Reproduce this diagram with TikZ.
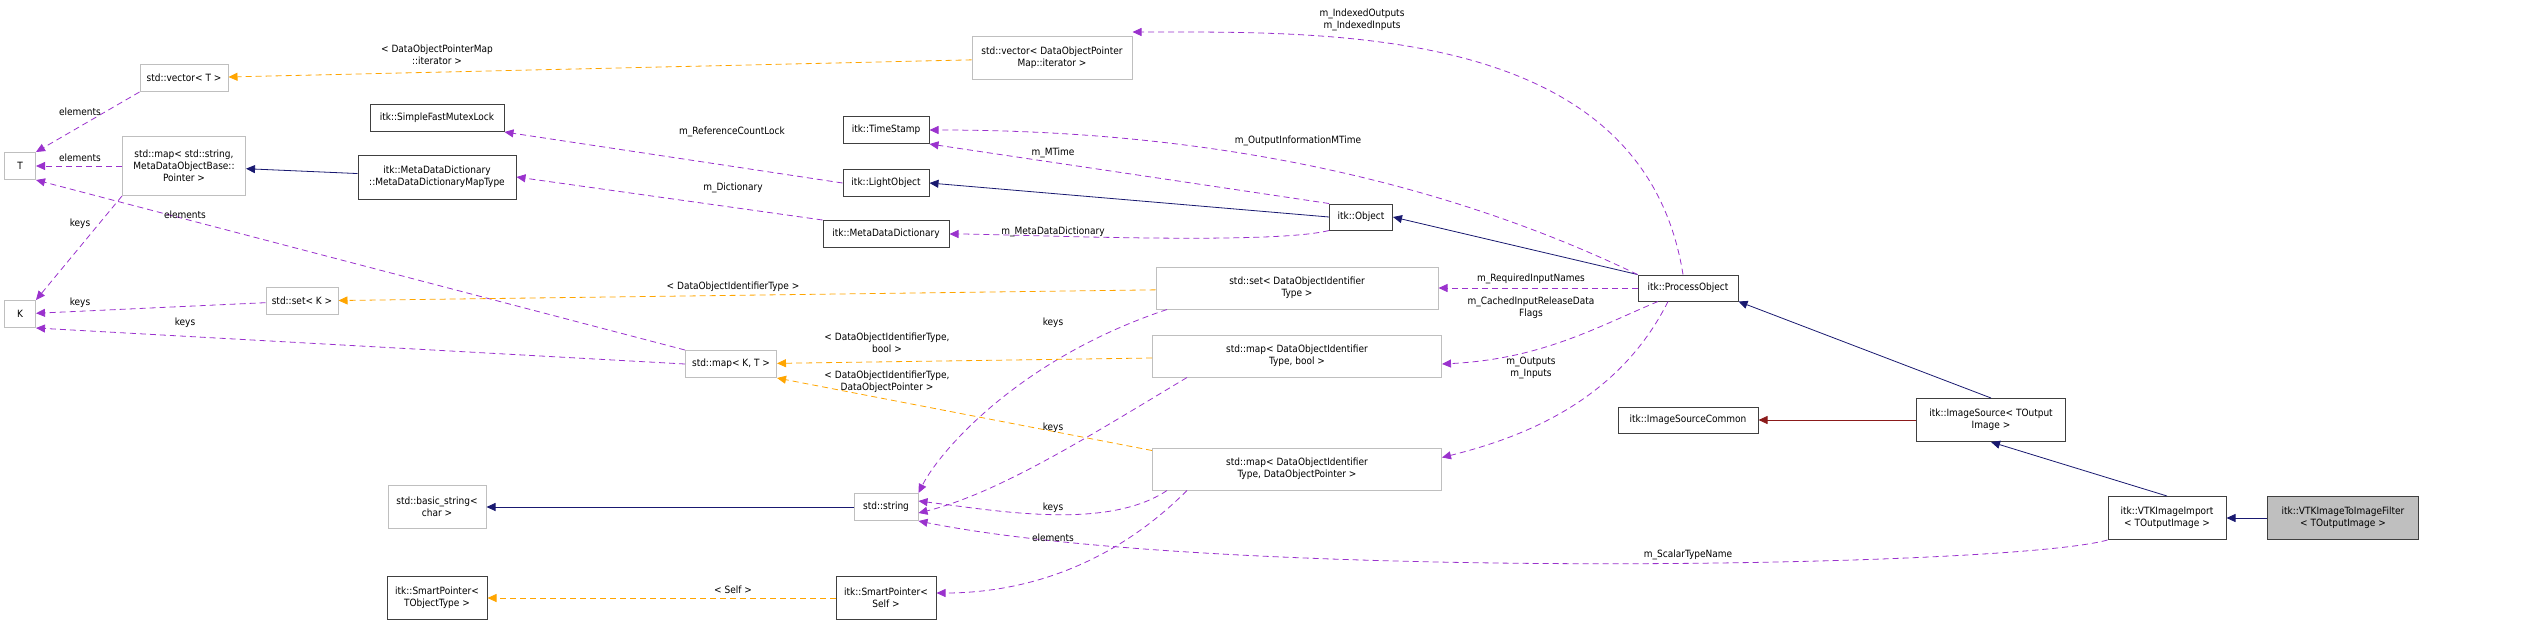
\documentclass[tikz,border=0pt]{standalone}
\usepackage{fontspec}
\setmainfont{DejaVu Sans Condensed}
\usetikzlibrary{arrows.meta, positioning}
\definecolor{usecol}{HTML}{9A32CD}
\definecolor{tplcol}{HTML}{FFA500}
\definecolor{inhcol}{HTML}{191970}
\definecolor{prtcol}{HTML}{8B1A1A}
\tikzset{
    my-class/.style={draw=black!75, line width=1pt, fill=white, inner sep=0pt, align=center, font=\fontsize{10}{12}\selectfont},
    my-ext/.style={my-class, draw=black!25},
    my-cur/.style={my-class, fill=black!25},
    my-use/.style={draw=usecol, dash pattern=on 6pt off 4pt, line width=.8pt, -{Triangle[length=9pt,width=8pt]}},
    my-tpl/.style={my-use, draw=tplcol},
    my-inh/.style={draw=inhcol, line width=.8pt, -{Triangle[length=9pt,width=8pt]}},
    my-prt/.style={my-inh, draw=prtcol},
    my-lbl/.style={inner sep=0pt, align=center, font=\fontsize{10}{12}\selectfont},
}

\begin{document}
\begin{tikzpicture}[x=1pt, y=-1pt]
        \useasboundingbox (0,0) rectangle (2525,625);

        % CLASSES
        \node[my-ext, minimum width=31pt,  minimum height=27pt] (T)      at (20,166)   {T};
        \node[my-ext, minimum width=31pt,  minimum height=27pt] (K)      at (20,314)   {K};
        \node[my-ext, minimum width=88pt,  minimum height=27pt] (VECT)   at (184,78)   {std::vector< T >};
        \node[my-ext, minimum width=123pt, minimum height=59pt] (MAPSM)  at (184,166)  {std::map< std::string,\\MetaDataObjectBase::\\Pointer >};
        \node[my-ext, minimum width=72pt,  minimum height=27pt] (SETK)   at (302,301)  {std::set< K >};
        \node[my-class, minimum width=134pt, minimum height=27pt] (SFML) at (437,118)  {itk::SimpleFastMutexLock};
        \node[my-class, minimum width=158pt, minimum height=44pt] (MDDMT) at (437,177) {itk::MetaDataDictionary\\::MetaDataDictionaryMapType};
        \node[my-ext, minimum width=98pt,  minimum height=43pt] (BSTR)   at (437,507)  {std::basic\_string<\\char >};
        \node[my-class, minimum width=100pt, minimum height=43pt] (SPTO) at (437,598)  {itk::SmartPointer<\\TObjectType >};
        \node[my-ext, minimum width=91pt,  minimum height=27pt] (MAPKT)  at (731,364)  {std::map< K, T >};
        \node[my-class, minimum width=86pt, minimum height=27pt] (TS)    at (886,130)  {itk::TimeStamp};
        \node[my-class, minimum width=86pt, minimum height=27pt] (LO)    at (886,183)  {itk::LightObject};
        \node[my-class, minimum width=126pt, minimum height=27pt] (MDD)  at (886,234)  {itk::MetaDataDictionary};
        \node[my-ext, minimum width=64pt,  minimum height=27pt] (STR)    at (886,507)  {std::string};
        \node[my-class, minimum width=100pt, minimum height=43pt] (SPS)  at (886,598)  {itk::SmartPointer<\\Self >};
        \node[my-ext, minimum width=160pt, minimum height=43pt] (VECDOPM) at (1052,58) {std::vector< DataObjectPointer\\Map::iterator >};
        \node[my-ext, minimum width=282pt, minimum height=42pt] (SETDOIT) at (1297,288) {std::set< DataObjectIdentifier\\Type >};
        \node[my-ext, minimum width=289pt, minimum height=42pt] (MAPDB)  at (1297,356) {std::map< DataObjectIdentifier\\Type, bool >};
        \node[my-ext, minimum width=289pt, minimum height=42pt] (MAPDP)  at (1297,469) {std::map< DataObjectIdentifier\\Type, DataObjectPointer >};
        \node[my-class, minimum width=63pt, minimum height=26pt] (OBJ)   at (1361,217) {itk::Object};
        \node[my-class, minimum width=100pt, minimum height=26pt] (PO)   at (1688,288) {itk::ProcessObject};
        \node[my-class, minimum width=140pt, minimum height=26pt] (ISC)  at (1688,420) {itk::ImageSourceCommon};
        \node[my-class, minimum width=149pt, minimum height=43pt] (IS)   at (1991,420) {itk::ImageSource< TOutput\\Image >};
        \node[my-class, minimum width=118pt, minimum height=43pt] (VII)  at (2167,518) {itk::VTKImageImport\\< TOutputImage >};
        \node[my-cur, minimum width=151pt, minimum height=43pt] (VIIF)   at (2343,518) {itk::VTKImageToImageFilter\\< TOutputImage >};

        % INHERITANCE
        \draw[my-inh] (MDDMT) -- (MAPSM);
        \draw[my-inh] (STR) -- (BSTR);
        \draw[my-inh] (OBJ.west) -- (LO.east);
        \draw[my-inh] (PO.north west) -- (OBJ.east);
        \draw[my-inh] (IS.north) -- (PO.south east);
        \draw[my-inh] (VII.north) -- (IS.south);
        \draw[my-inh] (VIIF) -- (VII);
        \draw[my-prt] (IS) -- (ISC);

        % USAGE
        \draw[my-use] (VECT.south west) -- (T.north east);
        \draw[my-use] (MAPSM) -- (T);
        \draw[my-use] (MAPSM.south west) -- (K.north east);
        \draw[my-use] (MAPKT.north west) -- (T.south east);
        \draw[my-use] (SETK) -- (K);
        \draw[my-use] (MAPKT.west) -- (K.south east);
        \draw[my-use] (LO.west) -- (SFML.south east);
        \draw[my-use] (MDD.north west) -- (MDDMT.east);
        \draw[my-use] (OBJ.north west) -- (TS.south east);
        \draw[my-use] (OBJ.south west) .. controls +(-60,15) and +(60,0) .. (MDD.east);
        \draw[my-use] (PO.north west) .. controls +(-250,-120) and +(200,0) .. (TS.east);
        \draw[my-use] ([xshift=-5pt]PO.north) .. controls +(-40,-250) and +(200,0) .. ([yshift=4pt]VECDOPM.north east);
        \draw[my-use] (PO) -- (SETDOIT);
        \draw[my-use] ([xshift=-30pt]PO.south) .. controls +(-60,25) and +(100,-5) .. ([yshift=-8pt]MAPDB.east);
        \draw[my-use] ([xshift=-20pt]PO.south) .. controls +(-50,100) and +(80,-20) .. ([yshift=-10pt]MAPDP.north east);
        \draw[my-use] ([xshift=-130pt]SETDOIT.south) .. controls +(-150,50) and +(20,-40) .. (STR.north east);
        \draw[my-use] ([xshift=-110pt]MAPDB.south) .. controls +(-100,60) and +(80,-20) .. ([yshift=-6pt]STR.east);
        \draw[my-use] ([xshift=-130pt]MAPDP.south) .. controls +(-60,40) and +(80,10) .. ([yshift=6pt]STR.east);
        \draw[my-use] ([xshift=-110pt]MAPDP.south) .. controls +(-80,80) and +(80,0) .. ([yshift=5pt]SPS.east);
        \draw[my-use] (VII.south west) .. controls +(-100,28) and +(300,60) .. (STR.south east);

        % TEMPLATES
        \draw[my-tpl] (VECDOPM) -- (VECT);
        \draw[my-tpl] (SETDOIT) -- (SETK);
        \draw[my-tpl] ([yshift=-2pt]MAPDB.west) -- (MAPKT);
        \draw[my-tpl] ([yshift=-3pt]MAPDP.north west) -- (MAPKT.south east);
        \draw[my-tpl] (SPS) -- (SPTO);

        % LABELS
        \node[my-lbl] (L1)  at (80,112)   {elements};
        \node[my-lbl] (L2)  at (80,158)   {elements};
        \node[my-lbl] (L3)  at (80,224)   {keys};
        \node[my-lbl] (L4)  at (185,215)  {elements};
        \node[my-lbl] (L5)  at (80,303)   {keys};
        \node[my-lbl] (L6)  at (185,323)  {keys};
        \node[my-lbl] (L7)  at (437,55)   {< DataObjectPointerMap\\::iterator >};
        \node[my-lbl] (L8)  at (732,132)  {m\_ReferenceCountLock};
        \node[my-lbl] (L9)  at (733,188)  {m\_Dictionary};
        \node[my-lbl] (L10) at (733,287)  {< DataObjectIdentifierType >};
        \node[my-lbl] (L11) at (887,343)  {< DataObjectIdentifierType,\\bool >};
        \node[my-lbl] (L12) at (887,382)  {< DataObjectIdentifierType,\\DataObjectPointer >};
        \node[my-lbl] (L13) at (733,590)  {< Self >};
        \node[my-lbl] (L14) at (1053,153) {m\_MTime};
        \node[my-lbl] (L15) at (1053,232) {m\_MetaDataDictionary};
        \node[my-lbl] (L16) at (1298,141) {m\_OutputInformationMTime};
        \node[my-lbl] (L17) at (1362,20)  {m\_IndexedOutputs\\m\_IndexedInputs};
        \node[my-lbl] (L18) at (1053,323) {keys};
        \node[my-lbl] (L19) at (1053,428) {keys};
        \node[my-lbl] (L20) at (1053,508) {keys};
        \node[my-lbl] (L21) at (1053,538) {elements};
        \node[my-lbl] (L22) at (1531,279) {m\_RequiredInputNames};
        \node[my-lbl] (L23) at (1531,308) {m\_CachedInputReleaseData\\Flags};
        \node[my-lbl] (L24) at (1531,368) {m\_Outputs\\m\_Inputs};
        \node[my-lbl] (L25) at (1688,555) {m\_ScalarTypeName};

    \end{tikzpicture}
\end{document}
